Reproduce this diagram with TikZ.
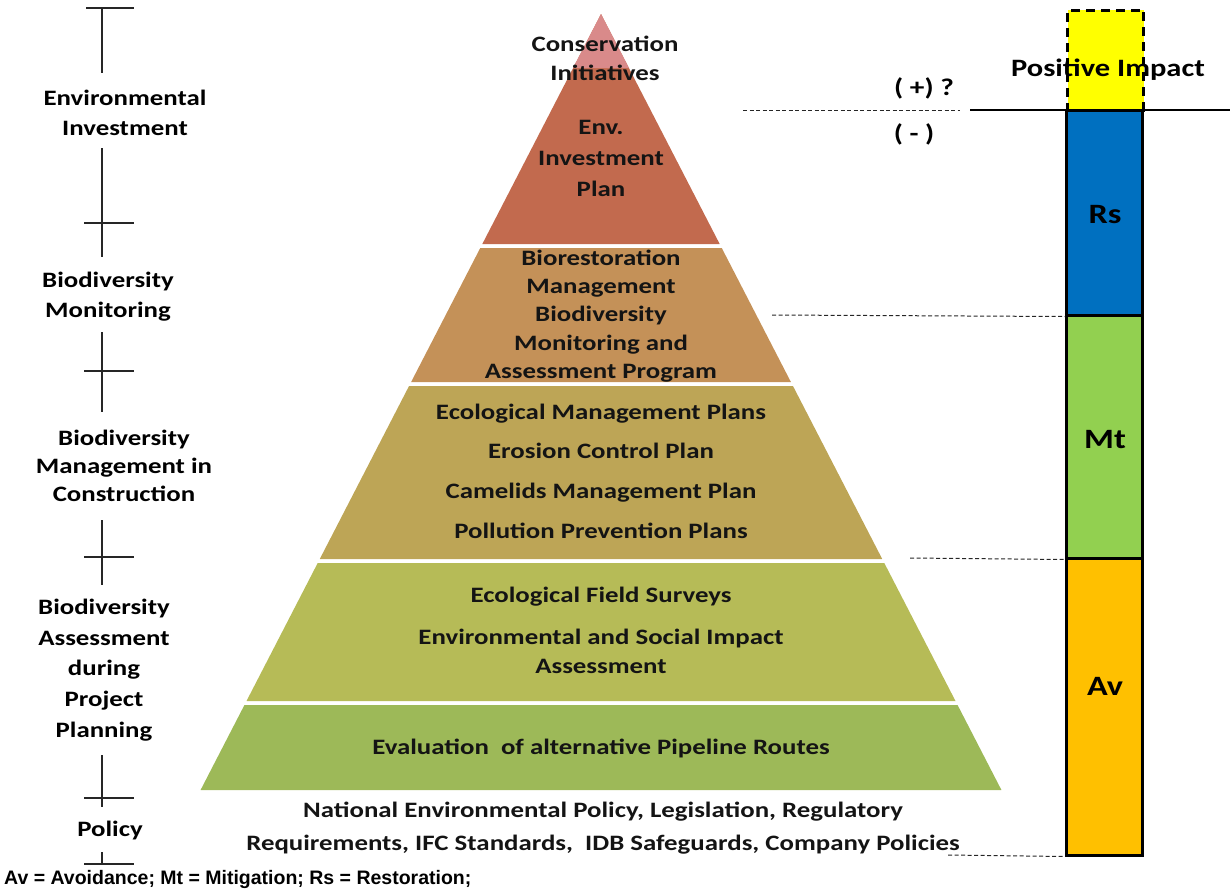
\documentclass[tikz,border=0pt]{standalone}
\usepackage{fontspec}
\newfontfamily\labfont{Carlito}[FakeStretch=1.22]
\newfontfamily\keyfont{Liberation Sans}
\usetikzlibrary{arrows}
\newcommand{\apexx}{601}
\newcommand{\apexy}{14}
\newcommand{\slope}{0.516}
\newcommand{\barwd}{76pt}

\definecolor{tipPink}{RGB}{217,138,138}
\definecolor{layA}{RGB}{194,106,78}
\definecolor{layB}{RGB}{196,145,88}
\definecolor{layC}{RGB}{189,165,86}
\definecolor{layD}{RGB}{182,187,87}
\definecolor{layE}{RGB}{157,185,88}
\definecolor{rsBlue}{RGB}{0,112,192}
\definecolor{mtGreen}{RGB}{146,208,80}
\definecolor{avOrange}{RGB}{255,192,0}
\definecolor{posYellow}{RGB}{255,255,0}
\definecolor{ink}{RGB}{20,20,20}

\tikzset{
  linesep/.style={font=\labfont\bfseries\fontsize{22}{#1}\selectfont},
  lab/.style={linesep=30, align=center, inner sep=0pt, text=black},
  tier/.style={linesep=29, align=center, inner sep=0pt, text=ink},
  tag/.style={font=\labfont\bfseries\fontsize{28}{30}\selectfont, inner sep=0pt, text=black},
  sign/.style={font=\labfont\bfseries\fontsize{24}{28}\selectfont, inner sep=0pt, text=black},
  rule/.style={line width=1.1pt, black!85},
  guide/.style={dash pattern=on 4pt off 2.5pt, line width=1pt, black!85},
  barseg/.style={draw=black, line width=3pt, minimum width=\barwd, inner sep=0pt}
}

\begin{document}
\begin{tikzpicture}[x=1pt, y=-1pt]
      \useasboundingbox (0,0) rectangle (1230,892);

          % pyramid
      \foreach \t/\b/\c in {14/244/layA, 248/382/layB, 386/559/layC, 563/701/layD, 705/790/layE}
      {
        \fill[\c] ({\apexx-\slope*(\t-\apexy)},\t) -- ({\apexx+\slope*(\t-\apexy)},\t)
          -- ({\apexx+\slope*(\b-\apexy)},\b) -- ({\apexx-\slope*(\b-\apexy)},\b) -- cycle;
      }
      \fill[tipPink] (\apexx,\apexy) -- (629,68) -- (573,68) -- cycle;

      \node (consv) at (605,58) [tier] {Conservation\\Initiatives};
      \node (envplan) at (601,158) [tier, linesep=31] {Env.\\Investment\\Plan};
      \node (biorest) at (601,316) [tier, linesep=28.3] {Biorestoration\\Management\\Biodiversity\\Monitoring and\\Assessment Program};
      \node (ecomgmt) at (601,471) [tier, linesep=39.7] {Ecological Management Plans\\Erosion Control Plan\\Camelids Management Plan\\Pollution Prevention Plans};
      \node (ecosurv) at (601,597) [tier] {Ecological Field Surveys};
      \node (esia) at (601,651) [tier] {Environmental and Social Impact\\Assessment};
      \node (evalroute) at (601,748) [tier] {Evaluation\ \ of alternative Pipeline Routes};
      \node (policytxt) at (603,828) [tier, linesep=33] {National Environmental Policy, Legislation, Regulatory\\Requirements, IFC Standards,\ \ IDB Safeguards, Company Policies};

          % ruler on the left
      \node (envinv) at (125,113) [lab] {Environmental\\Investment};
      \node (biomon) at (108,297) [lab] {Biodiversity\\Monitoring};
      \node (biocons) at (124,466) [lab, linesep=28] {Biodiversity\\Management in\\Construction};
      \node (bioass) at (104,670) [lab, linesep=30.7] {Biodiversity\\Assessment\\during\\Project\\Planning};
      \node (policy) at (110,830) [lab] {Policy};
      \draw[rule] (86,8) -- (134,8) (102,8) -- (102,73);
      \foreach \a/\b/\c in {148/257/223, 332/412/371, 520/585/557, 755/807/798}
      {
        \draw[rule] (102,\a) -- (102,\b) (84,\c) -- (134,\c);
      }
      \draw[rule] (102,852) -- (102,864) (84,864) -- (134,864);

          % impact bar
      \draw[line width=2.5pt] (970,110) -- (1230,110);
      \node (pos) at (1105.5,60) [barseg, fill=posYellow, minimum height=100pt, dash pattern=on 9pt off 6pt] {};
      \node (rs) at (1104.5,212.5) [barseg, fill=rsBlue, minimum height=205pt] {};
      \node (mt) at (1104.5,436.5) [barseg, fill=mtGreen, minimum height=243pt] {};
      \node (av) at (1104.5,706.5) [barseg, fill=avOrange, minimum height=297pt] {};
      \node (postxt) at (1108,70) [tag, font=\labfont\bfseries\fontsize{25}{28}\selectfont] {Positive Impact};
      \node (rstxt) at (1105,215) [tag] {Rs};
      \node (mttxt) at (1105,440) [tag] {Mt};
      \node (avtxt) at (1105,686) [tag] {Av};
      \node (plus) at (924,88) [sign] {( +) ?};
      \node (minus) at (914,134) [sign] {( - )};

      \coordinate (gA) at (743,110);
      \coordinate (gA2) at (960,110);
      \coordinate (gB) at (772,315);
      \coordinate (gC) at (910,558);
      \coordinate (gD) at (948,855);
      \draw[guide] (gA) -- (gA2);
      \draw[guide] (gB) -- (rs.south west);
      \draw[guide] (gC) -- (mt.south west);
      \draw[guide] (gD) -- (av.south west);

      \node (key) at (4,879) [anchor=west, inner sep=0pt, font=\keyfont\bfseries\fontsize{19.5}{22}\selectfont] {Av = Avoidance; Mt = Mitigation; Rs = Restoration;};
\end{tikzpicture}
\end{document}
